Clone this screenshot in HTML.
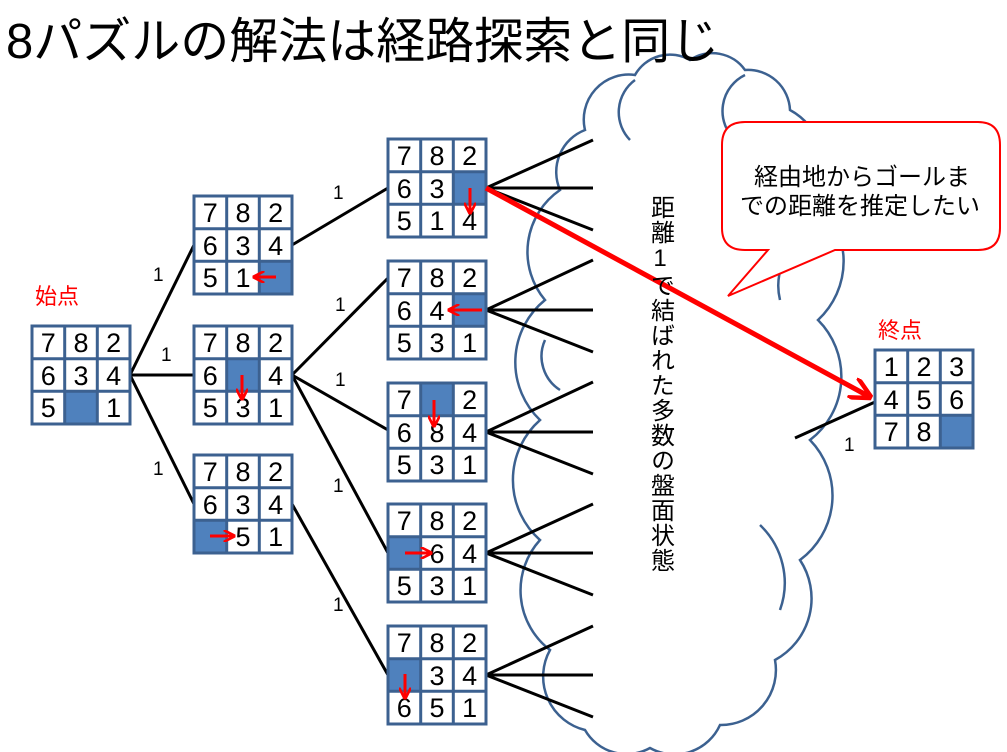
<!DOCTYPE html>
<html><head><meta charset="utf-8"><style>
html,body{margin:0;padding:0;background:#fff;}
svg{display:block;}
text{font-family:"Liberation Sans","Noto Sans CJK JP",sans-serif;}
.n{font-size:27px;text-anchor:middle;fill:#000;}
.e{font-size:19px;fill:#000;}
</style></head><body>
<svg width="1007" height="752" viewBox="0 0 1007 752" xmlns="http://www.w3.org/2000/svg">
<defs>
<g id="gl" fill="none" stroke="#3c6190" stroke-width="3">
<rect x="0" y="0" width="98" height="98"/>
<line x1="32.7" y1="0" x2="32.7" y2="98"/><line x1="65.3" y1="0" x2="65.3" y2="98"/>
<line x1="0" y1="32.7" x2="98" y2="32.7"/><line x1="0" y1="65.3" x2="98" y2="65.3"/>
</g>
<marker id="ah" viewBox="0 0 10 10" refX="8" refY="5" markerWidth="4" markerHeight="4" orient="auto"><path d="M0,0 L10,5 L0,10" fill="none" stroke="#f00" stroke-width="2.2"/></marker>
<marker id="ah2" viewBox="0 0 10 10" refX="9" refY="5" markerWidth="4.5" markerHeight="4.5" orient="auto"><path d="M0,0 L10,5 L0,10" fill="none" stroke="#f00" stroke-width="2"/></marker>
</defs>

<!-- cloud -->
<path d="M585,130 A45,45 0 0 1 635,75 A40,40 0 0 1 690,60 A40,40 0 0 1 745,70 A42,42 0 0 1 790,110 A65,65 0 0 1 815,200 A80,80 0 0 1 818,320 A80,80 0 0 1 810,440 A80,80 0 0 1 800,560 A70,70 0 0 1 775,660 A55,55 0 0 1 720,725 A50,50 0 0 1 650,748 A48,48 0 0 1 585,730 A55,55 0 0 1 550,650 A75,75 0 0 1 540,540 A80,80 0 0 1 540,420 A80,80 0 0 1 545,300 A75,75 0 0 1 560,190 A45,45 0 0 1 585,130 Z" fill="#fff" stroke="#3c6190" stroke-width="2.5"/>
<path d="M635,80 A40,40 0 0 0 630,140 M745,75 A40,40 0 0 0 735,140 M790,250 A60,60 0 0 0 780,300 M760,525 A80,80 0 0 1 780,610 M545,340 A40,40 0 0 0 560,390" fill="none" stroke="#3c6190" stroke-width="2.5"/>

<text x="6" y="58" style="font-size:49px">8パズルの解法は経路探索と同じ</text>

<!-- connectors -->
<g stroke="#000" stroke-width="3" fill="none">
<line x1="130" y1="375" x2="194" y2="245"/>
<line x1="130" y1="375" x2="194" y2="375"/>
<line x1="130" y1="375" x2="194" y2="504"/>
<line x1="292" y1="245" x2="388" y2="188"/>
<line x1="292" y1="375" x2="388" y2="278"/>
<line x1="292" y1="375" x2="388" y2="430"/>
<line x1="292" y1="375" x2="388" y2="553"/>
<line x1="292" y1="504" x2="388" y2="675"/>
<path d="M486,188 L593,140 M486,188 L593,188 M486,188 L593,230"/>
<path d="M486,310 L593,260 M486,310 L593,310 M486,310 L593,352"/>
<path d="M486,432 L593,382 M486,432 L593,432 M486,432 L593,474"/>
<path d="M486,553 L593,504 M486,553 L593,553 M486,553 L593,595"/>
<path d="M486,675 L593,626 M486,675 L593,675 M486,675 L593,717"/>
<line x1="795" y1="438" x2="875" y2="402"/>
</g>

<text class="e" x="153" y="281">1</text>
<text class="e" x="161" y="361">1</text>
<text class="e" x="153" y="475">1</text>
<text class="e" x="333" y="199">1</text>
<text class="e" x="335" y="311">1</text>
<text class="e" x="335" y="386">1</text>
<text class="e" x="333" y="492">1</text>
<text class="e" x="333" y="611">1</text>
<text class="e" x="844" y="451">1</text>

<text x="35" y="304" style="font-size:22px;fill:#f00">始点</text>
<text x="878" y="338" style="font-size:22px;fill:#f00">終点</text>

<!-- grids -->
<g transform="translate(32,326)"><rect width="98" height="98" fill="#fff"/><rect x="32.7" y="65.3" width="32.7" height="32.7" fill="#4f81bd"/><use href="#gl"/>
<text class="n" x="16.3" y="26">7</text><text class="n" x="49" y="26">8</text><text class="n" x="81.7" y="26">2</text>
<text class="n" x="16.3" y="59">6</text><text class="n" x="49" y="59">3</text><text class="n" x="81.7" y="59">4</text>
<text class="n" x="16.3" y="91">5</text><text class="n" x="81.7" y="91">1</text></g>

<g transform="translate(194,196)"><rect width="98" height="98" fill="#fff"/><rect x="65.3" y="65.3" width="32.7" height="32.7" fill="#4f81bd"/><use href="#gl"/>
<text class="n" x="16.3" y="26">7</text><text class="n" x="49" y="26">8</text><text class="n" x="81.7" y="26">2</text>
<text class="n" x="16.3" y="59">6</text><text class="n" x="49" y="59">3</text><text class="n" x="81.7" y="59">4</text>
<text class="n" x="16.3" y="91">5</text><text class="n" x="49" y="91">1</text></g>

<g transform="translate(194,326)"><rect width="98" height="98" fill="#fff"/><rect x="32.7" y="32.7" width="32.7" height="32.7" fill="#4f81bd"/><use href="#gl"/>
<text class="n" x="16.3" y="26">7</text><text class="n" x="49" y="26">8</text><text class="n" x="81.7" y="26">2</text>
<text class="n" x="16.3" y="59">6</text><text class="n" x="81.7" y="59">4</text>
<text class="n" x="16.3" y="91">5</text><text class="n" x="49" y="91">3</text><text class="n" x="81.7" y="91">1</text></g>

<g transform="translate(194,455)"><rect width="98" height="98" fill="#fff"/><rect x="0" y="65.3" width="32.7" height="32.7" fill="#4f81bd"/><use href="#gl"/>
<text class="n" x="16.3" y="26">7</text><text class="n" x="49" y="26">8</text><text class="n" x="81.7" y="26">2</text>
<text class="n" x="16.3" y="59">6</text><text class="n" x="49" y="59">3</text><text class="n" x="81.7" y="59">4</text>
<text class="n" x="49" y="91">5</text><text class="n" x="81.7" y="91">1</text></g>

<g transform="translate(388,139)"><rect width="98" height="98" fill="#fff"/><rect x="65.3" y="32.7" width="32.7" height="32.7" fill="#4f81bd"/><use href="#gl"/>
<text class="n" x="16.3" y="26">7</text><text class="n" x="49" y="26">8</text><text class="n" x="81.7" y="26">2</text>
<text class="n" x="16.3" y="59">6</text><text class="n" x="49" y="59">3</text>
<text class="n" x="16.3" y="91">5</text><text class="n" x="49" y="91">1</text><text class="n" x="81.7" y="91">4</text></g>

<g transform="translate(388,261)"><rect width="98" height="98" fill="#fff"/><rect x="65.3" y="32.7" width="32.7" height="32.7" fill="#4f81bd"/><use href="#gl"/>
<text class="n" x="16.3" y="26">7</text><text class="n" x="49" y="26">8</text><text class="n" x="81.7" y="26">2</text>
<text class="n" x="16.3" y="59">6</text><text class="n" x="49" y="59">4</text>
<text class="n" x="16.3" y="91">5</text><text class="n" x="49" y="91">3</text><text class="n" x="81.7" y="91">1</text></g>

<g transform="translate(388,383)"><rect width="98" height="98" fill="#fff"/><rect x="32.7" y="0" width="32.7" height="32.7" fill="#4f81bd"/><use href="#gl"/>
<text class="n" x="16.3" y="26">7</text><text class="n" x="81.7" y="26">2</text>
<text class="n" x="16.3" y="59">6</text><text class="n" x="49" y="59">8</text><text class="n" x="81.7" y="59">4</text>
<text class="n" x="16.3" y="91">5</text><text class="n" x="49" y="91">3</text><text class="n" x="81.7" y="91">1</text></g>

<g transform="translate(388,504)"><rect width="98" height="98" fill="#fff"/><rect x="0" y="32.7" width="32.7" height="32.7" fill="#4f81bd"/><use href="#gl"/>
<text class="n" x="16.3" y="26">7</text><text class="n" x="49" y="26">8</text><text class="n" x="81.7" y="26">2</text>
<text class="n" x="49" y="59">6</text><text class="n" x="81.7" y="59">4</text>
<text class="n" x="16.3" y="91">5</text><text class="n" x="49" y="91">3</text><text class="n" x="81.7" y="91">1</text></g>

<g transform="translate(388,626)"><rect width="98" height="98" fill="#fff"/><rect x="0" y="32.7" width="32.7" height="32.7" fill="#4f81bd"/><use href="#gl"/>
<text class="n" x="16.3" y="26">7</text><text class="n" x="49" y="26">8</text><text class="n" x="81.7" y="26">2</text>
<text class="n" x="49" y="59">3</text><text class="n" x="81.7" y="59">4</text>
<text class="n" x="16.3" y="91">6</text><text class="n" x="49" y="91">5</text><text class="n" x="81.7" y="91">1</text></g>

<g transform="translate(875,350)"><rect width="98" height="98" fill="#fff"/><rect x="65.3" y="65.3" width="32.7" height="32.7" fill="#4f81bd"/><use href="#gl"/>
<text class="n" x="16.3" y="26">1</text><text class="n" x="49" y="26">2</text><text class="n" x="81.7" y="26">3</text>
<text class="n" x="16.3" y="59">4</text><text class="n" x="49" y="59">5</text><text class="n" x="81.7" y="59">6</text>
<text class="n" x="16.3" y="91">7</text><text class="n" x="49" y="91">8</text></g>

<!-- small red arrows -->
<g stroke="#f00" stroke-width="3" fill="none">
<line x1="276" y1="277" x2="255" y2="277" marker-end="url(#ah)"/>
<line x1="242" y1="375" x2="242" y2="398" marker-end="url(#ah)"/>
<line x1="210" y1="536" x2="233" y2="536" marker-end="url(#ah)"/>
<line x1="470" y1="188" x2="470" y2="212" marker-end="url(#ah)"/>
<line x1="482" y1="310" x2="450" y2="310" marker-end="url(#ah)"/>
<line x1="434" y1="400" x2="434" y2="425" marker-end="url(#ah)"/>
<line x1="405" y1="553" x2="430" y2="553" marker-end="url(#ah)"/>
<line x1="405" y1="674" x2="405" y2="697" marker-end="url(#ah)"/>
</g>

<!-- callout -->
<path d="M745,122 L978,122 Q1000,122 1000,145 L1000,228 Q1000,250 978,250 L835,250 L728,296 L768,250 L745,250 Q722,250 722,228 L722,145 Q722,122 745,122 Z" fill="#fff" stroke="#f00" stroke-width="2"/>
<text x="862" y="185" style="font-size:24px;text-anchor:middle">経由地からゴールま</text>
<text x="860" y="214" style="font-size:24px;text-anchor:middle">での距離を推定したい</text>

<!-- big red arrow -->
<line x1="486" y1="188" x2="870" y2="397" stroke="#f00" stroke-width="5" marker-end="url(#ah2)"/>

<!-- vertical text -->
<text x="660" y="195" style="font-size:24px;writing-mode:vertical-rl;text-orientation:upright;letter-spacing:1px">距離1で結ばれた多数の盤面状態</text>
</svg>
</body></html>
